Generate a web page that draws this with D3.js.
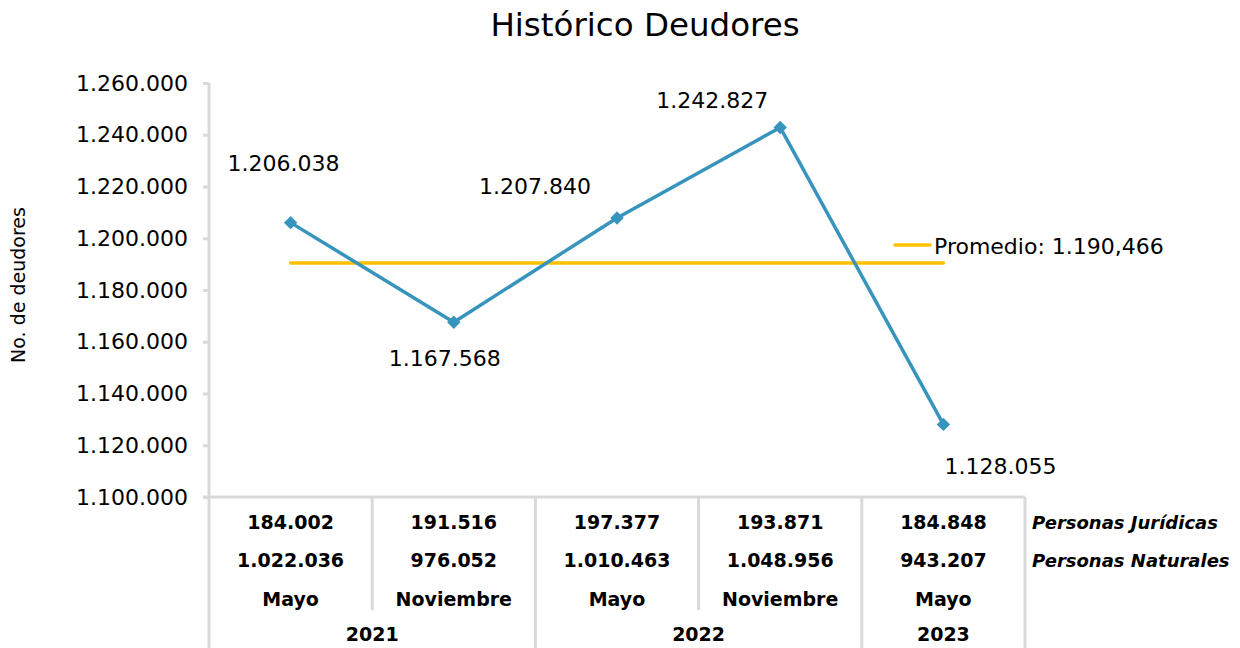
<!DOCTYPE html>
<html>
<head>
<meta charset="utf-8">
<script src="https://cdn.jsdelivr.net/npm/d3@7"></script>
<style>
  html, body { margin: 0; padding: 0; background: #fff; }
  svg { display: block; }
</style>
</head>
<body>
<div id="chart"></div>
<script>
	'use strict';

	// data
	var months = ["Mayo", "Noviembre", "Mayo", "Noviembre", "Mayo"];
	var years = ["2021", "2021", "2022", "2022", "2023"];
	var deudores = [1206038, 1167568, 1207840, 1242827, 1128055];
	var juridicas = [184002, 191516, 197377, 193871, 184848];
	var naturales = [1022036, 976052, 1010463, 1048956, 943207];
	var promedio = 1190466;
	var promedioLabel = "Promedio: 1.190,466";
	var yTicks = [1100000, 1120000, 1140000, 1160000, 1180000, 1200000, 1220000, 1240000, 1260000];

function drawChart() {
	var width = 1240, height = 648;
	var font = "'DejaVu Sans', Verdana, sans-serif";
	var lineColor = "#3794bd";
	var avgColor = "#ffc000";
	var axisColor = "#d9d9d9";

	var plotLeft = 209, plotRight = 1025, plotTop = 83, plotBottom = 497;

	var locale = d3.formatLocale({ decimal: ",", thousands: ".", grouping: [3], currency: ["", ""] });
	var fmt = locale.format(",d");

	var svg = d3.select("#chart").append("svg")
		.attr("width", width)
		.attr("height", height)
		.attr("font-family", font);

	var x = d3.scaleBand()
		.domain(d3.range(deudores.length))
		.range([plotLeft, plotRight])
		.padding(0);

	var y = d3.scaleLinear()
		.domain([1100000, 1260000])
		.range([plotBottom, plotTop]);

	function cx(i) { return x(i) + x.bandwidth() / 2; }

	// title
	svg.append("text")
		.attr("x", 645)
		.attr("y", 25)
		.attr("text-anchor", "middle")
		.attr("dominant-baseline", "central")
		.attr("font-size", "32.5px")
		.attr("fill", "#000")
		.text("Histórico Deudores");

	// y axis title
	svg.append("text")
		.attr("transform", "translate(18,285) rotate(-90)")
		.attr("text-anchor", "middle")
		.attr("dominant-baseline", "central")
		.attr("font-size", "19px")
		.text("No. de deudores");

	// y axis
	var yAxis = svg.append("g")
		.attr("transform", "translate(" + plotLeft + ",0)")
		.call(d3.axisLeft(y).tickValues(yTicks).tickFormat(fmt).tickSize(6).tickPadding(15));
	yAxis.select(".domain").remove();
	yAxis.selectAll(".tick line").attr("stroke", axisColor).attr("stroke-width", 3);
	yAxis.selectAll(".tick text")
		.attr("font-family", font)
		.attr("font-size", "22px")
		.attr("fill", "#000");

	// axis line running down through the table
	svg.append("line")
		.attr("x1", plotLeft).attr("x2", plotLeft)
		.attr("y1", plotTop).attr("y2", height)
		.attr("stroke", axisColor).attr("stroke-width", 3);

	// top of the category table
	svg.append("line")
		.attr("x1", plotLeft - 6).attr("x2", plotRight)
		.attr("y1", plotBottom).attr("y2", plotBottom)
		.attr("stroke", axisColor).attr("stroke-width", 3);

	// month separators
	var bounds = d3.range(1, deudores.length + 1);
	svg.selectAll("line.msep").data(bounds)
		.enter().append("line")
		.attr("class", "msep")
		.attr("x1", function(i) { return x(i - 1) + x.bandwidth(); })
		.attr("x2", function(i) { return x(i - 1) + x.bandwidth(); })
		.attr("y1", plotBottom)
		.attr("y2", function(i) {
			var last = i === deudores.length || years[i] !== years[i - 1];
			return last ? height : 610;
		})
		.attr("stroke", axisColor).attr("stroke-width", 3);

	// table rows
	var rows = [
		{ y: 522, values: juridicas.map(fmt) },
		{ y: 560, values: naturales.map(fmt) },
		{ y: 599, values: months }
	];
	rows.forEach(function(r) {
		svg.selectAll(null).data(r.values)
			.enter().append("text")
			.attr("x", function(d, i) { return cx(i); })
			.attr("y", r.y)
			.attr("text-anchor", "middle")
			.attr("dominant-baseline", "central")
			.attr("font-size", "19px")
			.attr("font-weight", "bold")
			.text(function(d) { return d; });
	});

	// year labels, centred on their group
	var yearGroups = d3.groups(d3.range(years.length), function(i) { return years[i]; });
	svg.selectAll("text.year").data(yearGroups)
		.enter().append("text")
		.attr("class", "year")
		.attr("x", function(g) {
			var a = x(g[1][0]), b = x(g[1][g[1].length - 1]) + x.bandwidth();
			return (a + b) / 2;
		})
		.attr("y", 634)
		.attr("text-anchor", "middle")
		.attr("dominant-baseline", "central")
		.attr("font-size", "19px")
		.attr("font-weight", "bold")
		.text(function(g) { return g[0]; });

	// row captions
	svg.selectAll("text.cap").data(["Personas Jurídicas", "Personas Naturales"])
		.enter().append("text")
		.attr("class", "cap")
		.attr("x", 1032)
		.attr("y", function(d, i) { return rows[i].y; })
		.attr("dominant-baseline", "central")
		.attr("font-size", "18px")
		.attr("font-weight", "bold")
		.attr("font-style", "italic")
		.text(function(d) { return d; });

	// average line
	svg.append("line")
		.attr("x1", cx(0)).attr("x2", cx(deudores.length - 1))
		.attr("y1", y(promedio)).attr("y2", y(promedio))
		.attr("stroke", avgColor).attr("stroke-width", 3.5)
		.attr("stroke-linecap", "round");

	// series line
	var line = d3.line()
		.x(function(d, i) { return cx(i); })
		.y(function(d) { return y(d); });
	svg.append("path")
		.datum(deudores)
		.attr("d", line)
		.attr("fill", "none")
		.attr("stroke", lineColor)
		.attr("stroke-width", 3.5)
		.attr("stroke-linejoin", "round");

	// markers
	var diamond = d3.symbol().type(d3.symbolSquare).size(90);
	svg.selectAll("path.mark").data(deudores)
		.enter().append("path")
		.attr("class", "mark")
		.attr("d", diamond)
		.attr("transform", function(d, i) { return "translate(" + cx(i) + "," + y(d) + ") rotate(45)"; })
		.attr("fill", lineColor);

	// data labels (placement offsets as in the source chart)
	var labelOffsets = [[-7, -59], [-9, 36], [-82, -31], [-68, -27], [57, 42]];
	svg.selectAll("text.lbl").data(deudores)
		.enter().append("text")
		.attr("class", "lbl")
		.attr("x", function(d, i) { return cx(i) + labelOffsets[i][0]; })
		.attr("y", function(d, i) { return y(d) + labelOffsets[i][1]; })
		.attr("text-anchor", "middle")
		.attr("dominant-baseline", "central")
		.attr("font-size", "22px")
		.text(function(d) { return fmt(d); });

	// legend
	svg.append("line")
		.attr("x1", 895).attr("x2", 930)
		.attr("y1", 245).attr("y2", 245)
		.attr("stroke", avgColor).attr("stroke-width", 3.5)
		.attr("stroke-linecap", "round");
	svg.append("text")
		.attr("x", 934)
		.attr("y", 246)
		.attr("dominant-baseline", "central")
		.attr("font-size", "22px")
		.text(promedioLabel);
}

drawChart();
</script>
</body>
</html>
